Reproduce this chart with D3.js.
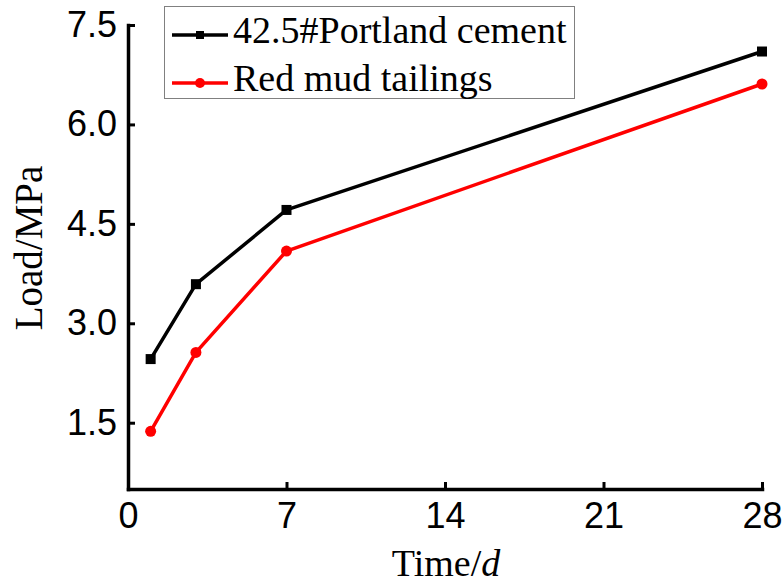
<!DOCTYPE html>
<html>
<head>
<meta charset="utf-8">
<script src="https://cdn.jsdelivr.net/npm/d3@7"></script>
<style>
  body { margin: 0; background: #fff; }
</style>
</head>
<body>
<div id="chart"></div>
<script>
// data
const days = [1, 3, 7, 28];
const portland = [2.46, 3.59, 4.71, 7.10];
const redMud = [1.37, 2.56, 4.09, 6.61];
const xTicks = [0, 7, 14, 21, 28];
const yTicks = [1.5, 3.0, 4.5, 6.0, 7.5];
const seriesNames = ["42.5#Portland cement", "Red mud tailings"];
const seriesColors = ["#000000", "#ff0000"];

const W = 784, H = 588;

const svg = d3.select("#chart")
              .append("svg")
              .attr("width", W)
              .attr("height", H);

const x = d3.scaleLinear()
            .domain([0, 28])
            .range([128, 762]);

const y = d3.scaleLinear()
            .domain([0.5, 7.5])
            .range([489, 25]);

// lines + markers
const line = d3.line()
               .x((d, i) => x(days[i]))
               .y(d => y(d));

const series = [portland, redMud];

series.forEach((vals, k) => {
    svg.append("path")
       .datum(vals)
       .attr("fill", "none")
       .attr("stroke", seriesColors[k])
       .attr("stroke-width", 3.5)
       .attr("stroke-linejoin", "round")
       .attr("d", line);
});

svg.append("g")
   .selectAll("rect")
   .data(portland)
   .join("rect")
   .attr("x", (d, i) => x(days[i]) - 5)
   .attr("y", d => y(d) - 5)
   .attr("width", 10)
   .attr("height", 10)
   .attr("fill", seriesColors[0]);

svg.append("g")
   .selectAll("circle")
   .data(redMud)
   .join("circle")
   .attr("cx", (d, i) => x(days[i]))
   .attr("cy", d => y(d))
   .attr("r", 5.5)
   .attr("fill", seriesColors[1]);

// axes
const xAxis = svg.append("g")
   .attr("transform", `translate(0,${y(0.5)})`)
   .call(d3.axisBottom(x)
           .tickValues(xTicks)
           .tickSize(-7)
           .tickSizeOuter(0)
           .tickPadding(13));

const yAxis = svg.append("g")
   .attr("transform", `translate(${x(0)},0)`)
   .call(d3.axisLeft(y)
           .tickValues(yTicks)
           .tickFormat(d3.format(".1f"))
           .tickSize(-7)
           .tickSizeOuter(0)
           .tickPadding(11));

[xAxis, yAxis].forEach(g => {
    g.select(".domain").attr("stroke-width", 3.5).attr("stroke-linecap", "square");
    g.selectAll(".tick line").attr("stroke-width", 3);
    g.selectAll(".tick text")
     .attr("font-family", "'Liberation Sans', Arial, sans-serif")
     .attr("font-size", 36)
     .attr("fill", "#000");
});

// axis titles
const xTitle = svg.append("text")
   .attr("x", 446)
   .attr("y", 576)
   .attr("text-anchor", "middle")
   .attr("font-family", "'Liberation Serif', 'Times New Roman', serif")
   .attr("font-size", 38);
xTitle.append("tspan").text("Time/");
xTitle.append("tspan").attr("font-style", "italic").text("d");

svg.append("text")
   .attr("transform", "translate(42,248) rotate(-90)")
   .attr("text-anchor", "middle")
   .attr("font-family", "'Liberation Serif', 'Times New Roman', serif")
   .attr("font-size", 39)
   .text("Load/MPa");

// legend
const legend = svg.append("g");

legend.append("rect")
      .attr("x", 164.5)
      .attr("y", 6.5)
      .attr("width", 410)
      .attr("height", 92)
      .attr("fill", "#fff")
      .attr("stroke", "#808080")
      .attr("stroke-width", 1);

const legendY = [35, 83];

seriesNames.forEach((name, k) => {
    const row = legend.append("g").attr("transform", `translate(0,${legendY[k]})`);
    row.append("line")
       .attr("x1", 172).attr("x2", 228)
       .attr("stroke", seriesColors[k])
       .attr("stroke-width", 3.5);
    if (k === 0) {
        row.append("rect")
           .attr("x", 196).attr("y", -4)
           .attr("width", 8).attr("height", 8)
           .attr("fill", seriesColors[k]);
    } else {
        row.append("circle")
           .attr("cx", 200).attr("r", 5)
           .attr("fill", seriesColors[k]);
    }
    row.append("text")
       .attr("x", 233)
       .attr("y", 8)
       .attr("font-family", "'Liberation Serif', 'Times New Roman', serif")
       .attr("font-size", 38)
       .text(name);
});
</script>
</body>
</html>
